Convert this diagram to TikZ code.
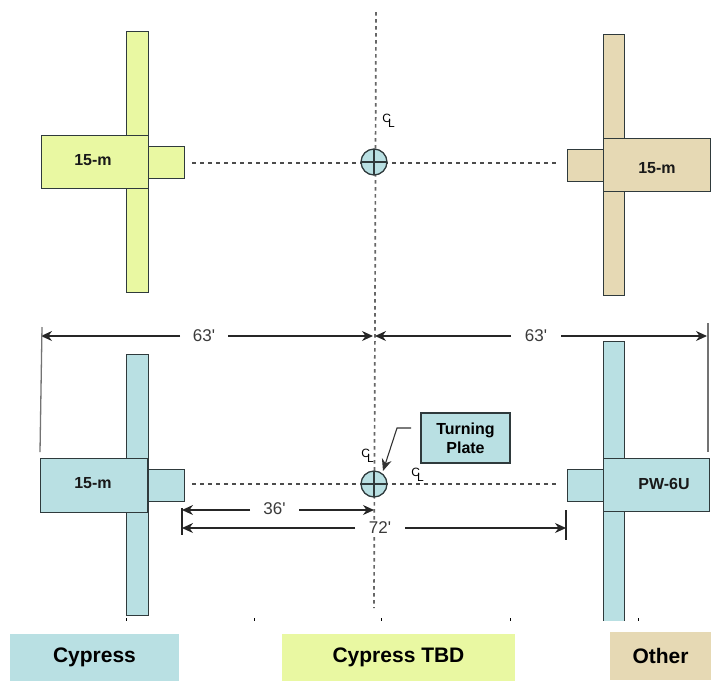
\documentclass[tikz,border=0pt]{standalone}
\usepackage{fontspec}
\setmainfont{Liberation Sans}
\newfontfamily\plainf{Liberation Sans}
\usetikzlibrary{arrows.meta}
\definecolor{cyp}{HTML}{B9E0E3}
\definecolor{tbd}{HTML}{E9F8A2}
\definecolor{oth}{HTML}{E6D9B4}
\definecolor{edge}{HTML}{2F3A3C}
\definecolor{dimgray}{HTML}{3A3A3A}
\tikzset{
  x=1pt,y=-1pt,
  part/.style={draw=edge,line width=1pt,inner sep=0pt,outer sep=0pt},
  unitlabel/.style={font=\bfseries\fontsize{16}{18}\selectfont,text=black!90,inner sep=0pt},
  legendbox/.style={inner sep=0pt,outer sep=0pt,font=\bfseries\fontsize{21}{24}\selectfont},
  centerline/.style={draw=black!60,line width=1.7pt,dash pattern=on 3.5pt off 3.5pt},
  centerhoriz/.style={draw=black!70,line width=1.1pt,dash pattern=on 4pt off 4pt},
  dimline/.style={draw=black!85,line width=1.1pt},
  dimarrow/.style={dimline,-{Stealth[length=11pt,width=10pt]}},
  dimlabel/.style={inner sep=0pt,outer sep=0pt,font=\plainf\fontsize{17}{20}\selectfont,text=dimgray},
  extline/.style={draw=black!55,line width=1.3pt},
  tick/.style={draw=black,line width=0.8pt},
  clmark/.style={inner sep=0pt,font=\fontsize{12}{12}\selectfont,text=black},
  plate/.style={circle,draw=edge,line width=1.3pt,fill=cyp,minimum size=26pt,inner sep=0pt,outer sep=0pt},
}
\newcommand{\boxat}[6]{% name, x1,y1,x2,y2, style
  \node[#6,minimum width={#4-#2},minimum height={#5-#3}] (#1) at ({(#2+#4)/2},{(#3+#5)/2}) {};
}
\newcommand{\plateat}[3]{%
  \node[plate] (#1) at (#2,#3) {};
  \draw[edge,line width=1.2pt] (#1.west) -- (#1.east) (#1.north) -- (#1.south);
}
\begin{document}
\begin{tikzpicture}
\useasboundingbox (0,0) rectangle (711,681);

% centre lines
\coordinate (vtop) at (376,12);
\coordinate (vbot) at (374,608);
\draw[centerline] (vtop) -- (vbot);
\coordinate (h1a) at (192,163); \coordinate (h1b) at (558,163);
\coordinate (h2a) at (192,484); \coordinate (h2b) at (558,484);
\draw[centerhoriz] (h1a) -- (h1b);
\draw[centerhoriz] (h2a) -- (h2b);

% top left
\boxat{tlbar}{126}{31}{148}{292}{part,fill=tbd}
\boxat{tlbody}{41}{135}{148}{188}{part,fill=tbd}
\boxat{tlnose}{148}{146}{184}{178}{part,fill=tbd}
\node[unitlabel] (tllabel) at (93,160) {15-m};

% top right
\boxat{trbar}{603}{34}{624}{295}{part,fill=oth}
\boxat{trnose}{567}{149}{603}{181}{part,fill=oth}
\boxat{trbody}{603}{138}{710}{191}{part,fill=oth}
\node[unitlabel] (trlabel) at (657,168) {15-m};

% bottom left
\boxat{blbar}{126}{354}{148}{615}{part,fill=cyp}
\boxat{blbody}{40}{458}{147}{512}{part,fill=cyp}
\boxat{blnose}{148}{469}{184}{501}{part,fill=cyp}
\node[unitlabel] (bllabel) at (93,483) {15-m};

% bottom right (cut off at the bottom)
\begin{scope}
\clip (590,330) rectangle (711,620);
\boxat{brbar}{603}{341}{624}{640}{part,fill=cyp}
\end{scope}
\boxat{brnose}{567}{469}{603}{501}{part,fill=cyp}
\boxat{brbody}{603}{458}{709}{511}{part,fill=cyp}
\node[unitlabel] (brlabel) at (664,484) {PW-6U};

% turning plates
\plateat{plateA}{374}{162}
\plateat{plateB}{374}{484}

% centre-line marks
\node[clmark] (cl1) at (388.5,121) {C\kern-3pt\raisebox{-5pt}{L}};
\node[clmark] (cl2) at (367.5,456) {C\kern-3pt\raisebox{-5pt}{L}};
\node[clmark] (cl3) at (417.5,475) {C\kern-3pt\raisebox{-5pt}{L}};

% turning plate callout
\node[draw=edge,line width=1.1pt,fill=cyp,minimum width=89pt,minimum height=50pt,inner sep=0pt,align=center,
      font=\bfseries\fontsize{16}{19}\selectfont] (tp) at (465.5,438) {Turning\\Plate};
\coordinate (lead0) at (411,428);
\coordinate (lead1) at (397,428);
\coordinate (leadtip) at (383,471);
\draw[draw=black!80,line width=1.1pt,-{Stealth[length=12pt,width=10pt]}] (lead0) -- (lead1) -- (leadtip);

% 63' dimensions
\node[dimlabel,minimum width=48pt,minimum height=14pt] (d63a) at (204,336) {63'};
\node[dimlabel,minimum width=50pt,minimum height=14pt] (d63b) at (536,336) {63'};
\coordinate (d63al) at (41,336); \coordinate (d63ar) at (373,336);
\coordinate (d63bl) at (375,336); \coordinate (d63br) at (707,336);
\draw[dimarrow] (d63a.west) -- (d63al);
\draw[dimarrow] (d63a.east) -- (d63ar);
\draw[dimarrow] (d63b.west) -- (d63bl);
\draw[dimarrow] (d63b.east) -- (d63br);
\coordinate (e1a) at (42,327); \coordinate (e1b) at (40,452);
\coordinate (e2a) at (708,323); \coordinate (e2b) at (708,452);
\draw[extline] (e1a) -- (e1b);
\draw[extline] (e2a) -- (e2b);

% 36' and 72' dimensions
\node[dimlabel,minimum width=49pt,minimum height=14pt] (d36) at (274.5,509) {36'};
\node[dimlabel,fill=white,minimum width=50pt,minimum height=16pt] (d72) at (380,528) {72'};
\coordinate (d36l) at (182,510); \coordinate (d36r) at (374,510);
\coordinate (d72l) at (182,528); \coordinate (d72r) at (566,528);
\draw[dimarrow] (d36.west |- d36l) -- (d36l);
\draw[dimarrow] (d36.east |- d36l) -- (d36r);
\draw[dimarrow] (d72.west) -- (d72l);
\draw[dimarrow] (d72.east) -- (d72r);
\coordinate (t1a) at (182,508); \coordinate (t1b) at (182,535);
\coordinate (t2a) at (566,510); \coordinate (t2b) at (566,540);
\draw[dimline] (t1a) -- (t1b);
\draw[dimline] (t2a) -- (t2b);

% small ticks
\foreach \tx in {126,254,381,510,638} {
  \coordinate (tk\tx a) at (\tx,618); \coordinate (tk\tx b) at (\tx,621);
  \draw[tick] (tk\tx a) -- (tk\tx b);
}

% legend
\node[legendbox,fill=cyp,minimum width=169pt,minimum height=47pt] (lgA) at (94.5,657.5) {Cypress};
\node[legendbox,fill=tbd,minimum width=233pt,minimum height=47pt] (lgB) at (398.5,657.5) {Cypress TBD};
\node[legendbox,fill=oth,minimum width=101pt,minimum height=48pt] (lgC) at (660.5,656) {Other};
\end{tikzpicture}
\end{document}
